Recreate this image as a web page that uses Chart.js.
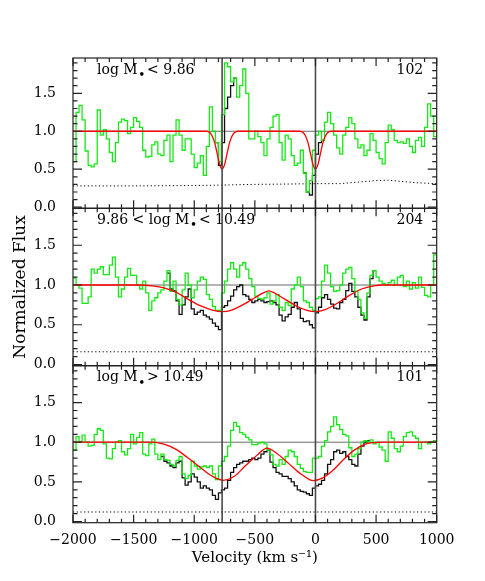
<!DOCTYPE html>
<html>
<head>
<meta charset="utf-8">
<script src="https://cdn.jsdelivr.net/npm/chart.js@4.4.1/dist/chart.umd.min.js"></script>
<style>
  html, body { margin: 0; padding: 0; background: #fff; }
  #wrap { position: relative; width: 485px; height: 581px; }
  #wrap canvas { position: absolute; left: 0; top: 0; }
</style>
</head>
<body>
<div id="wrap">
  <canvas id="p1" width="485" height="581"></canvas>
  <canvas id="p2" width="485" height="581"></canvas>
  <canvas id="p3" width="485" height="581"></canvas>
</div>
<script>
// Velocity grid of the stacked spectra (bin start, km/s)
const binStart = -2000;
const binWidth = 25;

const xTicks = [-2000, -1500, -1000, -500, 0, 500, 1000];
const yTicks = [0, 0.5, 1.0, 1.5];
const velMarks = [-770, 0];
const continuum = 1.0;

// Panel texts
const labelPre = ['log M', '9.86 < log M', 'log M'];
const labelPost = [' < 9.86', ' < 10.49', ' > 10.49'];
const counts = ['102', '204', '101'];

// Panel 1 : log M* < 9.86
const green1 = [
  0.6, 1.25, 1.34, 1.15, 0.74, 0.55, 0.53, 0.57, 1.28, 0.95,
  1.02, 0.9, 0.72, 0.6, 0.85, 1.12, 1.16, 1.14, 0.97, 1.05,
  1.18, 1.13, 1.05, 0.75, 0.66, 0.67, 0.82, 0.86, 0.7, 0.68,
  0.88, 0.95, 0.6, 0.95, 1.15, 0.95, 0.75, 0.9, 0.9, 0.7,
  0.52, 0.58, 0.68, 0.42, 0.8, 1.32, 1.0, 0.85, 0.6, 1.22,
  1.9, 1.85, 1.65, 1.7, 1.45, 1.6, 1.82, 1.5, 0.9, 0.9,
  1.0, 0.93, 0.85, 0.68, 0.9, 1.05, 1.2, 1.22, 0.85, 0.62,
  0.95, 0.9, 0.68, 0.55, 0.58, 0.75, 0.45, 0.2, 0.35, 0.75,
  0.95, 1.0, 0.88, 1.12, 1.25, 1.1, 0.95, 0.78, 0.7, 0.95,
  1.05, 1.18, 1.1, 0.9, 0.78, 0.82, 0.68, 0.75, 0.97, 0.88,
  0.72, 0.64, 0.57, 0.85, 1.08, 1.02, 0.88, 0.85, 0.86, 0.84,
  0.9, 0.8, 0.72, 0.88, 0.92, 0.8, 1.05, 1.36, 1.2, 0.93
];
const black1aFrom = -825;
const black1a = [0.85, 0.55, 0.85, 1.3, 1.45, 1.6, 1.7];
const black1bFrom = -100;
const black1b = [0.45, 0.2, 0.16, 0.42, 0.7, 0.85, 0.88];
const redVel1 = [-2000, -900, -870, -850, -830, -810, -790, -770, -750, -730, -710, -690, -670, -640,
  -130, -100, -80, -60, -40, -20, 0, 20, 40, 60, 80, 100, 130, 1000];
const red1 = [1.0, 1.0, 0.98, 0.93, 0.84, 0.7, 0.56, 0.5, 0.56, 0.7, 0.84, 0.93, 0.98, 1.0,
  1.0, 0.98, 0.93, 0.84, 0.7, 0.56, 0.5, 0.56, 0.7, 0.84, 0.93, 0.98, 1.0, 1.0];
const dotVel1 = [-2000, -1500, -1000, -800, -500, -200, 0, 200, 350, 500, 600, 700, 850, 1000];
const dot1 = [0.28, 0.28, 0.285, 0.29, 0.3, 0.305, 0.31, 0.31, 0.33, 0.35, 0.355, 0.34, 0.32, 0.31];

// Panel 2 : 9.86 < log M* < 10.49
const green2 = [
  1.09, 1.0, 0.96, 0.77, 0.77, 0.85, 1.2, 1.15, 1.2, 1.23,
  1.13, 1.13, 1.25, 1.35, 1.1, 0.85, 0.95, 1.1, 1.21, 1.12,
  1.12, 1.0, 0.95, 1.05, 0.9, 0.68, 0.8, 0.84, 0.9, 0.94,
  1.05, 1.18, 0.92, 1.05, 0.82, 0.75, 0.94, 1.15, 1.0, 0.84,
  0.94, 1.05, 1.1, 1.07, 0.88, 0.82, 0.73, 0.68, 0.68, 0.9,
  1.05, 1.2, 1.28, 1.2, 1.1, 1.25, 1.28, 1.2, 1.08, 0.98,
  0.86, 0.83, 0.82, 0.84, 0.9, 0.76, 0.8, 0.88, 0.72, 0.68,
  0.78, 0.74, 0.95, 1.0, 1.1, 0.98, 0.8, 0.78, 0.72, 0.68,
  0.83, 0.85, 1.05, 1.25, 1.15, 0.98, 0.92, 0.93, 1.0, 1.15,
  1.2, 1.22, 1.08, 0.92, 0.82, 0.65, 0.58, 0.9, 1.12, 1.18,
  1.1, 1.05, 1.02, 1.0, 1.03, 1.06, 1.0, 1.1, 1.12, 0.98,
  1.05, 0.95, 1.03, 0.96, 1.1, 0.97, 0.87, 0.85, 1.0, 1.38
];
const black2From = -1225;
const black2 = [
  1.15, 0.95, 0.93, 0.8, 0.63, 0.75, 0.85, 0.95, 0.7, 0.63,
  0.66, 0.68, 0.62, 0.6, 0.57, 0.52, 0.48, 0.44, 0.72, 0.74,
  0.8, 0.86, 0.94, 0.98, 1.0, 0.88, 0.86, 0.82, 0.78, 0.8,
  0.82, 0.8, 0.78, 0.79, 0.8, 0.78, 0.75, 0.62, 0.55, 0.6,
  0.63, 0.72, 0.78, 0.7, 0.58, 0.54, 0.55, 0.5, 0.46, 0.65,
  0.72, 0.84, 0.88, 0.82, 0.76, 0.71, 0.7, 0.78, 0.82, 0.93,
  1.02, 0.92, 0.85, 0.72, 0.62, 0.56, 0.85, 1.08, 1.18
];
const redVel2 = [-2000, -1450, -1350, -1250, -1150, -1050, -950, -850, -770, -690, -600, -500, -430, -385,
  -340, -250, -150, -70, 0, 80, 180, 280, 380, 480, 560, 1000];
const red2 = [1.0, 1.0, 0.99, 0.965, 0.91, 0.82, 0.74, 0.685, 0.665, 0.685, 0.75, 0.84, 0.9, 0.925,
  0.9, 0.82, 0.73, 0.68, 0.665, 0.69, 0.77, 0.87, 0.95, 0.99, 1.0, 1.0];
const dotVel2 = [-2000, 1000];
const dot2 = [0.16, 0.16];

// Panel 3 : log M* > 10.49
const green3 = [
  0.9, 1.07, 1.0, 1.09, 1.0, 0.95, 0.96, 1.1, 1.17, 1.15,
  0.98, 0.8, 0.79, 0.92, 1.0, 1.02, 0.88, 0.84, 0.92, 1.1,
  0.98, 1.06, 1.12, 0.85, 0.83, 0.98, 1.04, 0.85, 0.78, 0.85,
  0.78, 0.77, 0.72, 0.7, 0.77, 0.82, 0.6, 0.54, 0.58, 0.76,
  0.7, 0.66, 0.69, 0.7, 0.68, 0.7, 0.6, 0.53, 0.7, 0.76,
  0.82, 0.95, 1.15, 1.25, 1.2, 1.12, 1.1, 1.06, 1.03, 0.97,
  0.97, 0.99, 1.0, 0.98, 0.9, 0.84, 0.72, 0.7, 0.78, 0.72,
  0.82, 0.9, 0.88, 0.82, 0.72, 0.67, 0.63, 0.62, 0.62, 0.8,
  0.8, 0.82, 0.95, 1.02, 1.13, 1.2, 1.32, 1.22, 1.16, 1.1,
  1.08, 0.93, 0.82, 0.85, 0.92, 1.0, 1.02, 1.0, 1.03, 0.98,
  1.0, 0.94, 0.9, 0.76, 1.13, 1.05, 0.92, 0.88, 0.95, 1.07,
  1.12, 1.13, 1.08, 1.05, 0.92, 1.0, 1.0, 0.98, 1.0, 1.02
];
const black3From = -1275;
const black3 = [
  0.82, 0.76, 0.74, 0.7, 0.68, 0.74, 0.76, 0.55, 0.46, 0.5,
  0.6, 0.56, 0.5, 0.42, 0.45, 0.42, 0.4, 0.33, 0.28, 0.36,
  0.4, 0.42, 0.52, 0.62, 0.68, 0.72, 0.74, 0.76, 0.76, 0.78,
  0.8, 0.78, 0.8, 0.85, 0.88, 0.9, 0.75, 0.68, 0.62, 0.6,
  0.57, 0.57, 0.54, 0.5, 0.45, 0.4, 0.38, 0.37, 0.35, 0.33,
  0.42, 0.45, 0.47, 0.52, 0.6, 0.72, 0.78, 0.88, 0.9, 0.86,
  0.88, 0.82, 0.78, 0.72, 0.7, 0.85, 0.95, 1.0, 1.02
];
const redVel3 = [-2000, -1350, -1250, -1150, -1050, -950, -850, -760, -670, -580, -480, -400, -320, -220,
  -120, -20, 60, 140, 230, 320, 400, 480, 560, 1000];
const red3 = [1.0, 1.0, 0.975, 0.91, 0.8, 0.68, 0.57, 0.52, 0.57, 0.7, 0.84, 0.925, 0.86, 0.73,
  0.6, 0.515, 0.55, 0.64, 0.78, 0.9, 0.97, 0.995, 1.0, 1.0];
const dotVel3 = [-2000, 1000];
const dot3 = [0.12, 0.12];

const FONT = '"DejaVu Serif", "Liberation Serif", serif';

// histogram points at bin starts, closed at the end of the last bin
function stepPoints(vals, from) {
  const pts = vals.map((v, i) => ({ x: from + binWidth * i, y: v }));
  pts.push({ x: from + binWidth * vals.length, y: vals[vals.length - 1] });
  return pts;
}
function xy(xs, ys) {
  return xs.map((x, i) => ({ x: x, y: ys[i] }));
}

// frame with inward IDL-style ticks and the panel texts
const idlFrame = {
  id: 'idlFrame',
  afterDatasetsDraw(chart, args, o) {
    const { ctx, chartArea: a, scales: { x, y } } = chart;
    ctx.save();
    ctx.strokeStyle = '#222';
    ctx.lineWidth = 1.2;
    ctx.strokeRect(a.left, a.top, a.right - a.left, a.bottom - a.top);
    ctx.beginPath();
    for (let v = xTicks[0]; v <= xTicks[xTicks.length - 1]; v += 100) {
      const px = x.getPixelForValue(v);
      const len = v % 500 === 0 ? 8 : 4;
      ctx.moveTo(px, a.bottom); ctx.lineTo(px, a.bottom - len);
      ctx.moveTo(px, a.top); ctx.lineTo(px, a.top + len);
    }
    for (let k = 0; k <= 19; k++) {
      const py = y.getPixelForValue(k / 10);
      const len = k % 5 === 0 ? 9 : 4.5;
      ctx.moveTo(a.left, py); ctx.lineTo(a.left + len, py);
      ctx.moveTo(a.right, py); ctx.lineTo(a.right - len, py);
    }
    ctx.stroke();

    ctx.fillStyle = '#000';
    ctx.textBaseline = 'alphabetic';
    const bx = a.left + 24, by = a.top + 15.5;
    ctx.font = '14px ' + FONT;
    ctx.textAlign = 'left';
    ctx.fillText(o.pre, bx, by);
    const w = ctx.measureText(o.pre).width;
    // subscript star of M*
    ctx.font = '12px ' + FONT;
    ctx.fillText('\u2022', bx + w + 0.5, by + 5.5);
    ctx.font = '14px ' + FONT;
    ctx.fillText(o.post, bx + w + 5, by);
    ctx.textAlign = 'right';
    ctx.fillText(o.count, a.right - 13.5, by);
    ctx.restore();
  }
};

const panels = [
  { id: 'p1', top: 58, bottom: 208.3, green: green1,
    black: [[black1aFrom, black1a], [black1bFrom, black1b]],
    redV: redVel1, red: red1, dotV: dotVel1, dot: dot1 },
  { id: 'p2', top: 208.3, bottom: 365.7, green: green2,
    black: [[black2From, black2]],
    redV: redVel2, red: red2, dotV: dotVel2, dot: dot2 },
  { id: 'p3', top: 365.7, bottom: 522.7, green: green3,
    black: [[black3From, black3]],
    redV: redVel3, red: red3, dotV: dotVel3, dot: dot3 }
];

const xAxisHeight = 50;

panels.forEach(function (p, i) {
  const last = i === panels.length - 1;
  const datasets = [];

  velMarks.forEach(function (v) {
    datasets.push({ data: [{ x: v, y: -1 }, { x: v, y: 3 }], borderColor: '#4a4a4a',
      borderWidth: 1.6, order: 0 });
  });
  datasets.push({ data: xy(p.redV, p.red), borderColor: '#ff0000', borderWidth: 1.3,
    cubicInterpolationMode: 'monotone', order: 1 });
  datasets.push({ data: stepPoints(p.green, binStart), borderColor: 'rgb(20,235,20)',
    borderWidth: 1.3, stepped: true, order: 2 });
  p.black.forEach(function (seg) {
    datasets.push({ data: stepPoints(seg[1], seg[0]), borderColor: '#111',
      borderWidth: 1.3, stepped: true, order: 3 });
  });
  datasets.push({ data: xy(p.dotV, p.dot), borderColor: '#000', borderWidth: 1,
    borderDash: [1.2, 2.5], order: 4 });
  datasets.push({ data: [{ x: xTicks[0], y: continuum }, { x: xTicks[xTicks.length - 1], y: continuum }],
    borderColor: '#6a6a6a', borderWidth: 1, order: 5 });

  new Chart(document.getElementById(p.id), {
    type: 'line',
    data: { datasets: datasets },
    options: {
      responsive: false,
      animation: false,
      events: [],
      elements: { point: { radius: 0 }, line: { tension: 0, fill: false } },
      layout: {
        padding: { top: p.top, left: 0, right: 48.3,
          bottom: 581 - p.bottom - (last ? xAxisHeight : 0) }
      },
      plugins: {
        legend: { display: false },
        tooltip: { enabled: false },
        idlFrame: { pre: labelPre[i], post: labelPost[i], count: counts[i] }
      },
      scales: {
        x: {
          type: 'linear',
          min: xTicks[0],
          max: xTicks[xTicks.length - 1],
          display: last,
          grid: { display: false },
          border: { display: false },
          afterBuildTicks: function (axis) { axis.ticks = xTicks.map(v => ({ value: v })); },
          afterFit: function (axis) { axis.height = last ? xAxisHeight : 0; },
          ticks: {
            autoSkip: false,
            maxRotation: 0,
            padding: 1,
            color: '#000',
            font: { family: FONT, size: 14 },
            callback: v => (v < 0 ? '\u2212' + Math.abs(v) : String(v))
          },
          title: {
            display: true,
            text: 'Velocity (km s\u207B\u00B9)',
            color: '#000',
            font: { family: FONT, size: 15 },
            padding: { top: 0, bottom: 6 }
          }
        },
        y: {
          min: -0.015,
          max: 1.965,
          grid: { display: false },
          border: { display: false },
          afterBuildTicks: function (axis) { axis.ticks = yTicks.map(v => ({ value: v })); },
          afterFit: function (axis) { axis.width = 73; },
          ticks: {
            padding: 9,
            color: '#000',
            font: { family: FONT, size: 14 },
            callback: v => v.toFixed(1)
          },
          title: {
            display: i === 1,
            text: 'Normalized Flux',
            color: '#000',
            font: { family: FONT, size: 17 },
            padding: { top: 10, bottom: 0 }
          }
        }
      }
    },
    plugins: [idlFrame]
  });
});
</script>
</body>
</html>
